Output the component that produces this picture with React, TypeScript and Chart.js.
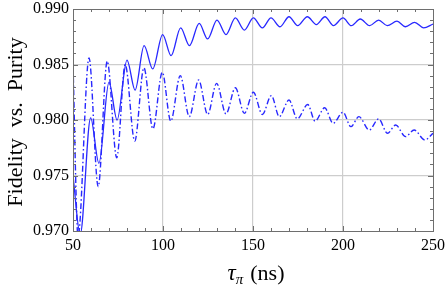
import React, { useEffect, useRef } from "react";
import { Chart, registerables } from "chart.js";
Chart.register(...registerables);

// Solid curve (Fidelity): extrema positions (ns) and values
const solidT = [50, 54, 59.8, 64.4, 70, 74.5, 80, 84.5, 89.5, 94.3, 99.8, 104.5, 109.8, 114.7, 120.1, 124.8, 130, 135, 140.2, 145.2, 150.2, 155.2, 160, 165, 170, 174.8, 180.2, 185.2, 190, 194.7, 200, 204.6, 209.6, 214.8, 219.8, 224.6, 230, 234.7, 239.8, 244.8, 250];
const solidV = [0.9750, 0.9697, 0.9802, 0.9761, 0.9834, 0.9800, 0.9854, 0.9827, 0.9867, 0.9846, 0.9877, 0.9858, 0.9883, 0.9867, 0.9887, 0.9873, 0.9890, 0.9877, 0.9892, 0.9881, 0.9892, 0.9883, 0.9892, 0.9884, 0.9893, 0.9885, 0.9893, 0.9886, 0.9893, 0.9885, 0.9892, 0.9885, 0.9891, 0.9885, 0.9890, 0.9885, 0.9889, 0.9884, 0.9888, 0.9883, 0.98865];

// Dot-dashed curve (Purity)
const dashT = [50, 52.8, 58.9, 64, 69, 74.3, 79, 84.3, 89.4, 94.4, 99.6, 104.3, 109.6, 114.6, 119.8, 124.8, 129.8, 135, 140.2, 145.2, 150.2, 155.2, 160.2, 164.6, 170, 174.6, 180.4, 184.5, 189.8, 194.5, 200, 204.4, 208.8, 214.6, 219.8, 224.7, 229.3, 234.7, 239.5, 245.5, 250];
const dashV = [0.9850, 0.9695, 0.9856, 0.9740, 0.9853, 0.9766, 0.9850, 0.9781, 0.9847, 0.9792, 0.9843, 0.9799, 0.9840, 0.9803, 0.9836, 0.9805, 0.9833, 0.98055, 0.9829, 0.9806, 0.9825, 0.9805, 0.9822, 0.9803, 0.9818, 0.9801, 0.9814, 0.9799, 0.9811, 0.9797, 0.9807, 0.9794, 0.9803, 0.9791, 0.9801, 0.9788, 0.97955, 0.9785, 0.9791, 0.9782, 0.9788];

const xMin = 50, xMax = 250, xMinor = 10, xMajorStep = 50;
const yMin = 0.970, yMax = 0.990, yMinor = 0.001, yMajorEvery = 5;
const yTitle = "Fidelity  vs.  Purity";
const xTitleMain = "\u03C4";
const xTitleSub = "\u03C0";
const xTitleUnit = "(ns)";

const SERIF = '"Liberation Serif", "Times New Roman", serif';
const BLUE = "rgb(40,40,255)";

export default function App() {
  const ref = useRef<HTMLCanvasElement>(null);
  useEffect(() => {
    const framePlugin = {
      id: "frameTicks",
      afterDraw(chart: any) {
        const { ctx, chartArea: a, scales } = chart;
        const xs = scales.x, ys = scales.y;
        ctx.save();
        ctx.strokeStyle = "rgb(110,110,110)";
        ctx.lineWidth = 1;
        ctx.strokeRect(Math.round(a.left) + 0.5, Math.round(a.top) + 0.5, Math.round(a.right - a.left), Math.round(a.bottom - a.top));
        ctx.beginPath();
        for (let i = 0; xMin + i * xMinor <= xMax + 1e-9; i++) {
          const v = xMin + i * xMinor;
          const px = Math.round(xs.getPixelForValue(v)) + 0.5;
          const len = (v % xMajorStep === 0) ? 5 : 3;
          ctx.moveTo(px, a.bottom); ctx.lineTo(px, a.bottom - len);
          ctx.moveTo(px, a.top); ctx.lineTo(px, a.top + len);
        }
        const nY = Math.round((yMax - yMin) / yMinor);
        for (let i = 0; i <= nY; i++) {
          const v = yMin + i * yMinor;
          const py = Math.round(ys.getPixelForValue(v)) + 0.5;
          const len = (i % yMajorEvery === 0) ? 5 : 3;
          ctx.moveTo(a.left, py); ctx.lineTo(a.left + len, py);
          ctx.moveTo(a.right, py); ctx.lineTo(a.right - len, py);
        }
        ctx.stroke();

        // x title with subscript
        ctx.fillStyle = "#000";
        ctx.textBaseline = "alphabetic";
        const fMain = `italic 23px ${SERIF}`;
        const fSub = `italic 15px ${SERIF}`;
        const fUnit = `22px ${SERIF}`;
        const gap = 7;
        ctx.font = fMain; const w1 = ctx.measureText(xTitleMain).width;
        ctx.font = fSub; const w2 = ctx.measureText(xTitleSub).width;
        ctx.font = fUnit; const w3 = ctx.measureText(xTitleUnit).width;
        const total = w1 + w2 + gap + w3;
        const cx = 256;
        let x0 = cx - total / 2;
        const base = 280;
        ctx.textAlign = "left";
        ctx.font = fMain; ctx.fillText(xTitleMain, x0, base); x0 += w1;
        ctx.font = fSub; ctx.fillText(xTitleSub, x0, base + 4); x0 += w2 + gap;
        ctx.font = fUnit; ctx.fillText(xTitleUnit, x0, base);

        // y title
        ctx.save();
        ctx.translate(16, 122);
        ctx.rotate(-Math.PI / 2);
        ctx.font = `22px ${SERIF}`;
        ctx.textAlign = "center";
        ctx.textBaseline = "middle";
        ctx.fillText(yTitle, 0, 0);
        ctx.restore();
        ctx.restore();
      },
    };

    const chart = new Chart(ref.current as HTMLCanvasElement, {
      type: "line",
      data: {
        datasets: [
          {
            label: "Fidelity",
            data: solidT.map((t, i) => ({ x: t, y: solidV[i] })),
            borderColor: BLUE,
            borderWidth: 1.3,
            pointRadius: 0,
            fill: false,
            cubicInterpolationMode: "monotone",
          },
          {
            label: "Purity",
            data: dashT.map((t, i) => ({ x: t, y: dashV[i] })),
            borderColor: BLUE,
            borderWidth: 1.4,
            borderDash: [6, 2.5, 1.5, 2.5],
            pointRadius: 0,
            fill: false,
            cubicInterpolationMode: "monotone",
          },
        ],
      },
      options: {
        responsive: false,
        animation: false,
        devicePixelRatio: 1,
        layout: { padding: { left: 0, top: 9, right: 14, bottom: 0 } },
        plugins: { legend: { display: false }, tooltip: { enabled: false } },
        scales: {
          x: {
            type: "linear",
            min: xMin,
            max: xMax,
            afterFit: (s: any) => { s.height = 58; s.paddingLeft = 0; s.paddingRight = 0; },
            border: { display: false },
            grid: {
              drawTicks: false,
              lineWidth: 1.2,
              color: (c: any) => {
                const v = c.tick ? c.tick.value : 0;
                return (v % xMajorStep === 0 && v > xMin && v < xMax) ? "rgb(205,205,205)" : "rgba(0,0,0,0)";
              },
            },
            ticks: {
              stepSize: xMinor,
              autoSkip: false,
              maxRotation: 0,
              padding: 5,
              color: "#000",
              font: { family: SERIF, size: 16 },
              callback: (v: any) => (Number(v) % xMajorStep === 0 ? String(v) : ""),
            },
          },
          y: {
            type: "linear",
            min: yMin,
            max: yMax,
            afterFit: (s: any) => { s.width = 73; s.paddingTop = 0; s.paddingBottom = 0; },
            border: { display: false },
            grid: {
              drawTicks: false,
              lineWidth: 1.2,
              color: (c: any) => {
                const v = c.tick ? c.tick.value : 0;
                const k = Math.round((v - yMin) / yMinor);
                return (k % yMajorEvery === 0 && k > 0 && k < Math.round((yMax - yMin) / yMinor)) ? "rgb(205,205,205)" : "rgba(0,0,0,0)";
              },
            },
            ticks: {
              stepSize: yMinor,
              autoSkip: false,
              padding: 4,
              color: "#000",
              font: { family: SERIF, size: 16 },
              callback: (v: any) => {
                const k = Math.round((Number(v) - yMin) / yMinor);
                return k % yMajorEvery === 0 ? Number(v).toFixed(3) : "";
              },
            },
          },
        },
      },
      plugins: [framePlugin],
    } as any);
    return () => chart.destroy();
  }, []);
  return (
    <div style={{ position: "fixed", left: 0, top: 0, width: 447, height: 289, background: "#fff" }}>
      <canvas ref={ref} width={447} height={289} style={{ display: "block", width: 447, height: 289 }} />
    </div>
  );
}
